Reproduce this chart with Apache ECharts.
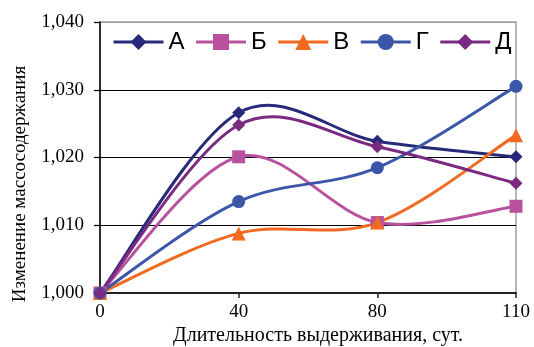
<!DOCTYPE html>
<html><head><meta charset="utf-8">
<script src="https://cdn.jsdelivr.net/npm/echarts@6/dist/echarts.min.js"></script>
<style>html,body{margin:0;padding:0;background:#fff}#c{width:534px;height:347px}</style>
</head><body><div id="c"></div>
<script>
const categories = ['0', '40', '80', '110'];
const seriesNames = ['А', 'Б', 'В', 'Г', 'Д'];
const valuesA = [1.000, 1.0266, 1.0224, 1.0201];
const valuesB = [1.000, 1.0201, 1.0104, 1.0128];
const valuesV = [1.000, 1.0088, 1.0104, 1.0233];
const valuesG = [1.000, 1.0135, 1.0185, 1.0305];
const valuesD = [1.000, 1.0248, 1.0216, 1.0162];
const yTickLabels = ['1,000', '1,010', '1,020', '1,030', '1,040'];
const xTitle = 'Длительность выдерживания, сут.';
const yTitle = 'Изменение массосодержания';

const colors = ['#262a78', '#b8529f', '#f26a21', '#3b56a8', '#7b2a82'];
const symbols = ['diamond', 'rect', 'triangle', 'circle', 'diamond'];
const symSizes = [13, 13, 14, 13, 13];
const allValues = [valuesA, valuesB, valuesV, valuesG, valuesD];

const chart = echarts.init(document.getElementById('c'), null, {renderer: 'canvas'});
const serif = '"Liberation Serif", "Times New Roman", serif';

// Excel-like smoothed curve (Catmull-Rom style Bezier, 1/6 tangents)
function renderCurve(params, api) {
  const i = params.dataIndex;
  const vals = allValues[i];
  const pts = vals.map((v, k) => api.coord([k, v]));
  const n = pts.length;
  const children = [];
  for (let k = 0; k < n - 1; k++) {
    const p0 = pts[Math.max(k - 1, 0)], p1 = pts[k], p2 = pts[k + 1], p3 = pts[Math.min(k + 2, n - 1)];
    children.push({
      type: 'bezierCurve',
      shape: {
        x1: p1[0], y1: p1[1], x2: p2[0], y2: p2[1],
        cpx1: p1[0] + (p2[0] - p0[0]) / 6, cpy1: p1[1] + (p2[1] - p0[1]) / 6,
        cpx2: p2[0] - (p3[0] - p1[0]) / 6, cpy2: p2[1] - (p3[1] - p1[1]) / 6
      },
      style: {stroke: colors[i], lineWidth: 3, fill: null}
    });
  }
  return {type: 'group', children};
}

const lineSeries = seriesNames.map((n, i) => ({
  name: n, type: 'line', data: allValues[i], smooth: false, z: 3,
  symbol: symbols[i], symbolSize: symSizes[i], showAllSymbol: true,
  lineStyle: {color: colors[i], width: 3, opacity: 0},
  itemStyle: {color: colors[i]}
}));

chart.setOption({
  animation: false,
  backgroundColor: '#fff',
  grid: {left: 100, right: 18, top: 22, bottom: 54, show: true, borderColor: '#a0a0a0', borderWidth: 1.5},
  legend: {
    left: 107, top: 25, itemWidth: 50, itemHeight: 20, itemGap: 10,
    textStyle: {fontFamily: '"Liberation Sans", Arial, sans-serif', fontSize: 24, color: '#000'},
    data: seriesNames.map((n, i) => ({name: n, lineStyle: {color: colors[i], width: 3, opacity: 1}}))
  },
  xAxis: {
    type: 'category', data: categories, boundaryGap: false,
    axisLine: {lineStyle: {color: '#222', width: 2}},
    axisTick: {show: true, length: 5, lineStyle: {color: '#222', width: 1.5}},
    axisLabel: {fontFamily: serif, fontSize: 19, color: '#000', margin: 10},
    splitLine: {show: false}
  },
  yAxis: {
    type: 'value', min: 1.000, max: 1.040, interval: 0.010,
    axisLine: {show: true, lineStyle: {color: '#000', width: 1.5}},
    axisTick: {show: true, length: 6, lineStyle: {color: '#000', width: 1.2}},
    axisLabel: {fontFamily: serif, fontSize: 19, color: '#000', margin: 16,
      formatter: (v) => yTickLabels[Math.round((v - 1.000) / 0.010)]},
    splitLine: {show: true, lineStyle: {color: ['#000', '#000', '#000', '#000', '#a0a0a0'], width: 1}}
  },
  graphic: [
    {type: 'text', x: 318, y: 336, style: {text: xTitle, font: '20px ' + serif, fill: '#000', textAlign: 'center', textVerticalAlign: 'middle'}},
    {type: 'text', rotation: Math.PI / 2, x: 20, y: 184, style: {text: yTitle, font: '19px ' + serif, fill: '#000', textAlign: 'center', textVerticalAlign: 'middle'}}
  ],
  series: [{
    type: 'custom', name: 'curves', z: 2, silent: true,
    renderItem: renderCurve,
    encode: {x: 0, y: 1},
    data: seriesNames.map((n, i) => [0, allValues[i][0]])
  }].concat(lineSeries)
});
</script></body></html>
